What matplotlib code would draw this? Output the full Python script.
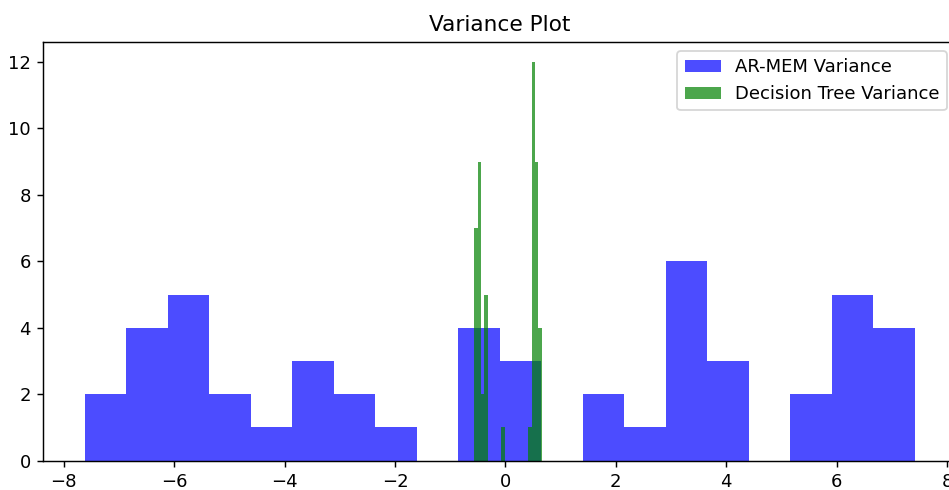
import numpy as np
import matplotlib
matplotlib.use("Agg")
import matplotlib.pyplot as plt

# AR-MEM variance histogram (20 bins)
armem_range = (-7.62, 7.41)
armem_counts = [2, 4, 5, 2, 1, 3, 2, 1, 0, 4, 3, 0, 2, 1, 6, 3, 0, 2, 5, 4]

# Decision tree variance histogram (20 bins)
dt_range = (-0.565, 0.656)
dt_counts = [7, 9, 2, 5, 0, 0, 0, 0, 1, 0, 0, 0, 0, 0, 0, 0, 1, 12, 9, 4]

labels = ["AR-MEM Variance", "Decision Tree Variance"]

DPI = 130
fig = plt.figure(figsize=(949 / DPI, 490 / DPI), dpi=DPI)
ax = fig.add_axes([43.3 / 949, 29.3 / 490, (956.0 - 43.3) / 949, (460.7 - 42.0) / 490])

a_edges = np.linspace(armem_range[0], armem_range[1], len(armem_counts) + 1)
a_centers = (a_edges[:-1] + a_edges[1:]) / 2
ax.hist(a_centers, bins=a_edges, weights=armem_counts, color="blue", alpha=0.7, label=labels[0])

d_edges = np.linspace(dt_range[0], dt_range[1], len(dt_counts) + 1)
d_centers = (d_edges[:-1] + d_edges[1:]) / 2
ax.hist(d_centers, bins=d_edges, weights=dt_counts, color="green", alpha=0.7, label=labels[1])

ax.set_title("Variance Plot")
ax.legend(loc="upper right")
fig.savefig("out.png", dpi=DPI)
